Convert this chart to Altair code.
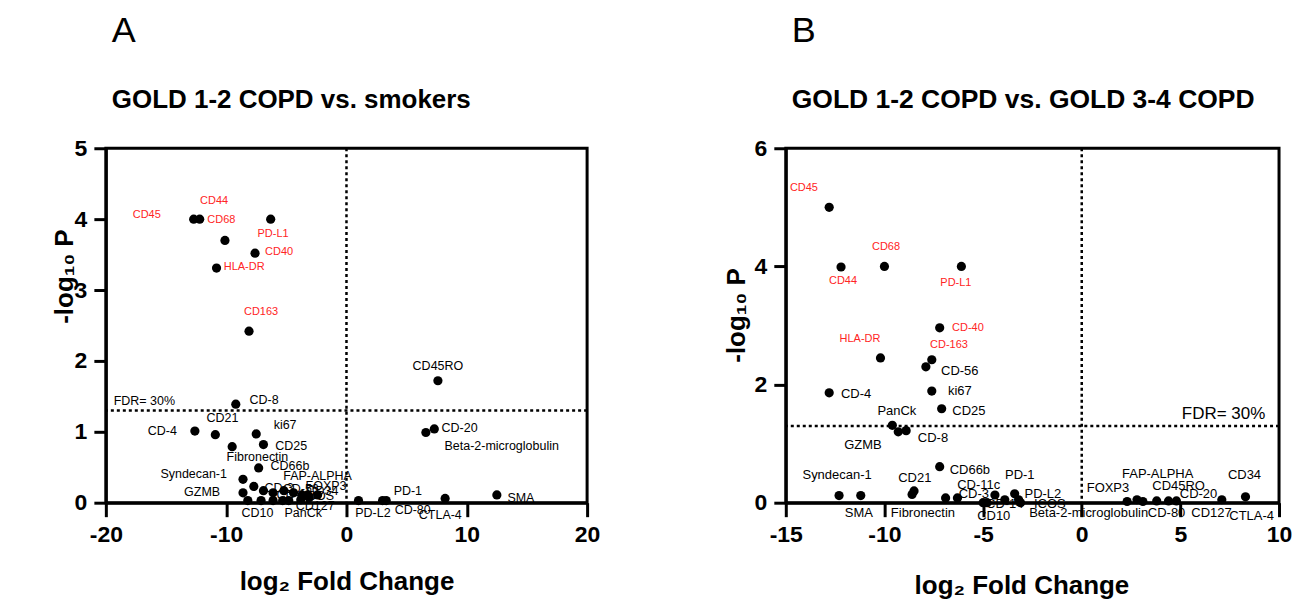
import altair as alt
import pandas as pd

FONT = "Liberation Sans"
RED = "#ff2424"

# ---------------- Panel A: GOLD 1-2 COPD vs. smokers ----------------
a_fc = [-12.7, -12.2, -6.3, -10.1, -7.6, -10.8, -8.1,
        -9.2, -12.6, -10.9, -7.5, -6.9, -9.5, -7.3, -8.6, -7.7, -8.6,
        -6.9, -6.1, -5.2, -4.4, -3.7, -3.2, -2.4,
        -8.2, -7.1, -6.1, -5.3, -4.8, -3.8, -3.1,
        1.0, 3.0, 3.3, 8.2, 12.5, 7.6, 7.3, 6.6]
a_p = [4.0, 4.0, 4.0, 3.7, 3.52, 3.31, 2.42,
       1.39, 1.01, 0.96, 0.97, 0.82, 0.79, 0.49, 0.33, 0.23, 0.14,
       0.17, 0.14, 0.17, 0.14, 0.11, 0.11, 0.11,
       0.03, 0.03, 0.03, 0.03, 0.03, 0.04, 0.07,
       0.03, 0.03, 0.03, 0.06, 0.11, 1.72, 1.04, 0.99]

a_lab = ["CD45", "CD44", "CD68", "PD-L1", "CD40", "HLA-DR", "CD163",
         "CD-8", "CD21", "CD-4", "ki67", "CD25", "Fibronectin", "CD66b",
         "Syndecan-1", "GZMB", "FAP-ALPHA", "FOXP3", "CD-56", "CD-3", "CD34",
         "CD-11c", "ICOS", "CD127", "CD10", "PanCk", "CD45RO", "CD-20",
         "Beta-2-microglobulin", "PD-1", "SMA", "PD-L2", "CD-80", "CTLA-4"]
a_lab_fc = [-16.6, -11.0, -10.4, -6.1, -5.6, -8.5, -7.1,
            -6.85, -10.3, -15.3, -5.1, -4.6, -7.4, -4.7,
            -12.7, -12.0, -2.4, -1.7, -3.8, -5.6, -2.0,
            -4.1, -2.3, -2.6, -7.4, -3.6, 7.6, 9.4,
            12.9, 5.1, 14.5, 2.2, 5.5, 7.8]
a_lab_p = [4.06, 4.25, 3.99, 3.79, 3.54, 3.32, 2.69,
           1.45, 1.20, 1.01, 1.10, 0.80, 0.65, 0.52,
           0.41, 0.15, 0.38, 0.24, 0.20, 0.21, 0.17,
           0.11, 0.10, -0.04, -0.14, -0.14, 1.93, 1.06,
           0.80, 0.17, 0.06, -0.15, -0.10, -0.18]
a_n_red = 7

# ---------------- Panel B: GOLD 1-2 COPD vs. GOLD 3-4 COPD ----------------
b_fc = [-12.8, -12.2, -10.0, -6.1, -7.2, -10.2, -7.6, -7.9, -7.6, -12.8,
        -7.1, -9.6, -9.3, -8.9, -12.3, -11.2, -8.5, -8.6, -7.2, -6.9,
        -6.3, -4.4, -3.4, -5.0, -4.8, -3.9, -3.2, -3.1,
        2.3, 2.8, 3.1, 3.8, 4.4, 4.8, 7.1, 8.3]
b_p = [5.0, 3.99, 4.0, 4.0, 2.96, 2.45, 2.42, 2.3, 1.89, 1.86,
       1.59, 1.31, 1.2, 1.22, 0.12, 0.12, 0.2, 0.14, 0.61, 0.08,
       0.08, 0.13, 0.15, 0.0, 0.0, 0.05, 0.05, 0.0,
       0.02, 0.05, 0.02, 0.03, 0.03, 0.03, 0.05, 0.1]

b_lab = ["CD45", "CD44", "CD68", "PD-L1", "CD-40", "HLA-DR", "CD-163",
         "CD-56", "ki67", "CD-4", "CD25", "PanCk", "GZMB", "CD-8",
         "Syndecan-1", "SMA", "CD21", "Fibronectin", "CD66b", "CD-11c",
         "CD-3", "PD-1", "PD-L2", "CD10", "CD-14", "ICOS",
         "Beta-2-microglobulin", "FOXP3", "FAP-ALPHA", "CD45RO", "CD-20",
         "CD34", "CD-80", "CD127", "CTLA-4"]
b_lab_fc = [-14.08, -12.1, -9.92, -6.38, -5.77, -11.24, -6.73,
            -6.18, -6.18, -11.44, -5.72, -9.37, -11.09, -7.54,
            -12.4, -11.3, -8.46, -8.05, -5.67, -5.22,
            -5.47, -3.14, -1.97, -4.46, -3.9, -1.62,
            0.35, 1.33, 3.85, 4.91, 5.92,
            8.25, 4.30, 6.58, 8.61]
b_lab_p = [5.32, 3.75, 4.32, 3.72, 2.96, 2.77, 2.67,
           2.23, 1.89, 1.84, 1.55, 1.55, 0.98, 1.10,
           0.47, -0.17, 0.41, -0.17, 0.56, 0.30,
           0.14, 0.47, 0.15, -0.22, -0.03, -0.03,
           -0.17, 0.25, 0.49, 0.29, 0.15,
           0.47, -0.17, -0.17, -0.22]
b_n_red = 7

FDR_P = 1.3
FDR_TEXT = "FDR= 30%"


def panel(fc, p, lab, lab_fc, lab_p, n_red, xdom, xvals, ydom, yvals,
          fdr_fc, fdr_p, fdr_size, letter, subtitle, sub_size, w, h,
          ytx, yty, xtx, xty, toff, lab_size):
    pts = pd.DataFrame({"fc": fc, "p": p})
    labs = pd.DataFrame({"fc": lab_fc, "p": lab_p, "name": lab})
    red = labs.iloc[:n_red]
    black = labs.iloc[n_red:]
    xs = alt.Scale(domain=xdom, nice=False, zero=False)
    ys = alt.Scale(domain=ydom, nice=False, zero=False)
    xaxis = alt.Axis(values=xvals, title="log₂ Fold Change", titleX=xtx, titleY=xty,
                     labelExpr="toString(datum.value)", labelFlush=False,
                     labelOverlap=False, tickSize=14, labelPadding=7)
    yaxis = alt.Axis(values=yvals, title="-log₁₀ P", titleX=ytx, titleY=yty,
                     labelExpr="toString(datum.value)", labelOverlap=False,
                     tickSize=12, labelPadding=7)
    X = alt.X("fc:Q", scale=xs, axis=xaxis)
    Y = alt.Y("p:Q", scale=ys, axis=yaxis)

    hline = alt.Chart(pd.DataFrame({"p": [FDR_P]})).mark_rule(
        strokeDash=[3, 3], strokeWidth=2.5, color="black"
    ).encode(y=Y)
    vline = alt.Chart(pd.DataFrame({"fc": [0]})).mark_rule(
        strokeDash=[3, 3], strokeWidth=2.5, color="black"
    ).encode(x=X)
    dots = alt.Chart(pts).mark_circle(size=85, color="black", opacity=1).encode(x=X, y=Y)
    red_t = alt.Chart(red).mark_text(font=FONT, fontSize=11, color=RED,
                                     align="center", baseline="middle").encode(
        x=X, y=Y, text="name:N")
    blk_t = alt.Chart(black).mark_text(font=FONT, fontSize=lab_size, color="black",
                                       align="center", baseline="middle").encode(
        x=X, y=Y, text="name:N")
    fdr_t = alt.Chart(pd.DataFrame({"fc": [fdr_fc], "p": [fdr_p], "name": [FDR_TEXT]})).mark_text(
        font=FONT, fontSize=fdr_size, color="black", align="center", baseline="middle"
    ).encode(x=X, y=Y, text="name:N")

    return alt.layer(hline, vline, dots, red_t, blk_t, fdr_t).properties(
        width=w, height=h,
        title=alt.TitleParams(
            text=letter, subtitle=subtitle, anchor="start", frame="group",
            font=FONT, fontSize=36, fontWeight="normal", color="black",
            subtitleFont=FONT, subtitleFontSize=sub_size, subtitleFontWeight="bold",
            subtitleColor="black", subtitlePadding=37, offset=toff, dx=6),
    )


A = panel(a_fc, a_p, a_lab, a_lab_fc, a_lab_p, a_n_red, [-20, 20], [-20, -10, 0, 10, 20],
          [0, 5], [0, 1, 2, 3, 4, 5], -16.8, 1.44, 12.5, "A", "GOLD 1-2 COPD vs. smokers", 26,
          482, 355, -28, 128, 241, 66, 23, 12.5)
B = panel(b_fc, b_p, b_lab, b_lab_fc, b_lab_p, b_n_red, [-15, 10], [-15, -10, -5, 0, 5, 10],
          [0, 6], [0, 2, 4, 6], 7.19, 1.50, 17, "B", "GOLD 1-2 COPD vs. GOLD 3-4 COPD", 26.5,
          494, 355, -36, 167, 236, 70, 23, 13)

chart = alt.hconcat(A, B, spacing=120).configure_view(
    stroke="black", strokeWidth=3
).configure_axis(
    domainColor="black", domainWidth=3, tickColor="black", tickWidth=3,
    labelFont=FONT, labelFontSize=23, labelFontWeight="bold", labelColor="black",
    titleFont=FONT, titleFontSize=26, titleFontWeight="bold", titleColor="black",
    grid=False,
).properties(padding={"left": 42, "top": 3, "right": 5, "bottom": 5},
             background="white")

chart.save("out.html", embed_options={"renderer": "svg", "actions": False})
